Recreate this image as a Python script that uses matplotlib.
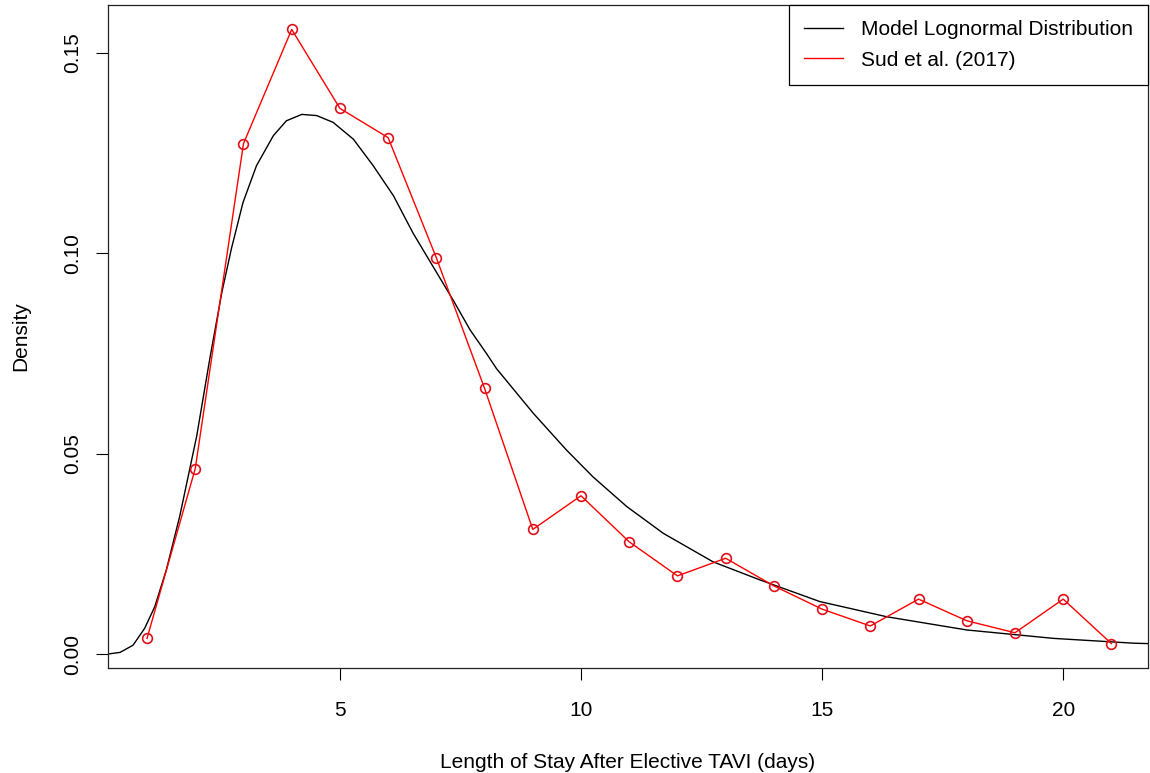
import matplotlib
matplotlib.use("Agg")
import matplotlib.pyplot as plt

plt.rcParams['font.family'] = ['Liberation Sans', 'DejaVu Sans']

# Sud et al. (2017) observed length-of-stay density
days = list(range(1, 22))
sud_density = [0.0039, 0.0463, 0.1274, 0.1559, 0.1362, 0.1289, 0.0989,
               0.0663, 0.0311, 0.0395, 0.0280, 0.0195, 0.0239, 0.0170,
               0.0112, 0.0070, 0.0137, 0.0083, 0.0053, 0.0137, 0.0026]

# model lognormal curve
model_x = [0.19, 0.44, 0.71, 0.95, 1.16, 1.40, 1.68, 2.03, 2.30, 2.55,
           2.75, 2.99, 3.27, 3.62, 3.89, 4.21, 4.52, 4.86, 5.28, 5.69,
           6.11, 6.52, 7.35, 7.70, 8.04, 8.25, 9.01, 9.70, 10.25, 10.95,
           11.71, 12.74, 13.71, 14.95, 16.34, 18.00, 19.80, 21.46, 21.76]
model_y = [0.0000, 0.0004, 0.0022, 0.0064, 0.0118, 0.0210, 0.0345, 0.0544,
           0.0736, 0.0902, 0.1012, 0.1127, 0.1219, 0.1294, 0.1331, 0.1347,
           0.1344, 0.1327, 0.1285, 0.1219, 0.1144, 0.1050, 0.0883, 0.0809,
           0.0750, 0.0712, 0.0601, 0.0509, 0.0442, 0.0368, 0.0301, 0.0230,
           0.0185, 0.0131, 0.0093, 0.0060, 0.0039, 0.0027, 0.0026]

x_ticks = [5, 10, 15, 20]
y_ticks = [0.00, 0.05, 0.10, 0.15]
y_ticklabels = ["0.00", "0.05", "0.10", "0.15"]

fig = plt.figure(figsize=(11.5, 7.73), dpi=100)
ax = fig.add_axes([0.0939, 0.1358, 0.9044, 0.8577])

ax.plot(model_x, model_y, color="black", lw=1.0, label="Model Lognormal Distribution")
ax.plot(days, sud_density, color="red", lw=1.0, marker="o", markersize=7,
        markerfacecolor="none", markeredgecolor="#e0101a", markeredgewidth=1.2,
        label="Sud et al. (2017)")

ax.set_xlim(0.19, 21.76)
ax.set_ylim(-0.0035, 0.162)

ax.set_xticks(x_ticks)
ax.set_yticks(y_ticks)
ax.set_yticklabels(y_ticklabels, rotation=90, va="center")
ax.tick_params(direction="out", length=8.5, width=0.8, labelsize=15)
ax.tick_params(axis="x", pad=15)
ax.tick_params(axis="y", pad=10)

for sp in ax.spines.values():
    sp.set_linewidth(0.9)
    sp.set_color("#222222")

ax.set_xlabel("Length of Stay After Elective TAVI (days)", fontsize=15, labelpad=24)
ax.set_ylabel("Density", fontsize=15, labelpad=24)

leg = ax.legend(loc="upper right", bbox_to_anchor=(1.0, 1.0), borderaxespad=0,
                fontsize=15, fancybox=False, edgecolor="black",
                handlelength=1.9, handletextpad=0.85, borderpad=0.72,
                labelspacing=0.56, framealpha=1)
leg.get_frame().set_linewidth(0.9)
for h in leg.get_lines():
    h.set_marker("")

plt.savefig("out.png", dpi=100)
